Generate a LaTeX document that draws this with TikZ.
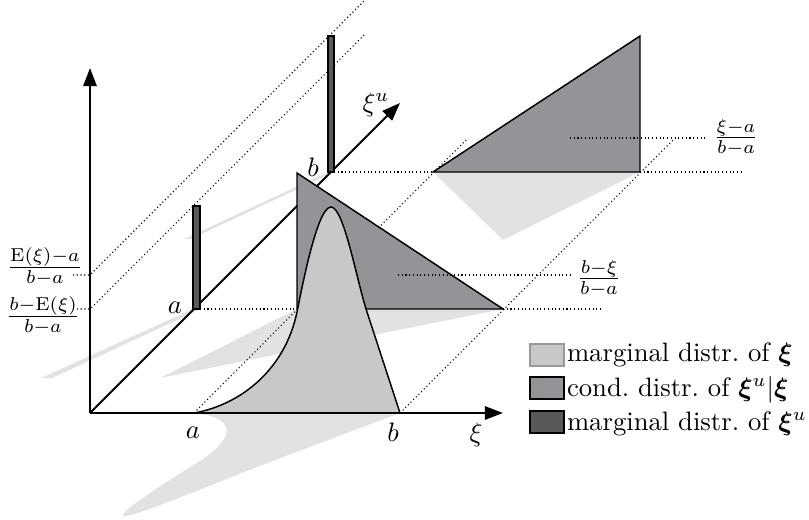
\documentclass[tikz,border=0pt]{standalone}
\usepackage{bm}
\usetikzlibrary{arrows.meta}
\definecolor{shade}{HTML}{E1E2E4}
\definecolor{lightg}{HTML}{C7C8CA}
\definecolor{midg}{HTML}{939498}
\definecolor{darkg}{HTML}{58595B}
\begin{document}
\begin{tikzpicture}[x=0.375pt,y=-0.375pt,
  axisline/.style={line width=0.75pt,-{Triangle[length=6.8pt,width=5pt]}},
  guide/.style={densely dotted,line width=0.4pt},
  outl/.style={draw=black,line width=0.55pt,line join=miter},
  shadowfill/.style={fill=shade,draw=none},
  lbl/.style={inner sep=0pt,outer sep=0pt},
  legbox/.style={minimum width=12.75pt,minimum height=8.25pt,inner sep=0pt,line width=0.5pt}]
\useasboundingbox (0,0) rectangle (809,520);

% named points
\coordinate (O) at (90,413);
\coordinate (Ytip) at (90,68);
\coordinate (Xtip) at (503,413);
\coordinate (Ztip) at (400,103);
\coordinate (xa) at (194,413);
\coordinate (xb) at (400,413);
\coordinate (A1) at (297,309);
\coordinate (A2) at (503,309);
\coordinate (A3) at (297,173);
\coordinate (B1) at (433,172);
\coordinate (B2) at (640,172);
\coordinate (B3) at (640,36);
\coordinate (Pa1) at (193,206);
\coordinate (Pa2) at (200,309);
\coordinate (Pb1) at (328,36);
\coordinate (Pb2) at (334,172);
\coordinate (Pk) at (331,207);

% shadows
\fill[shadowfill] (193,309) -- (201,309) -- (52,378) -- (41,378) -- cycle;
\fill[shadowfill] (328,172) -- (334,172) -- (191,239) -- (184,239) -- cycle;
\fill[shadowfill] (A1) -- (A2) -- (160,378) -- cycle;
\fill[shadowfill] (B1) -- (B2) -- (503,240) -- cycle;
\fill[shadowfill] (xa) .. controls (232,417) and (242,434.5) .. (196,463.5)
   .. controls (168,481) and (112,516) .. (125,516)
   .. controls (138,516) and (226,478.5) .. (266,463.5) -- (xb) -- cycle;

% dotted guides
\coordinate (g1s) at (73,275); \coordinate (g1m) at (90,275); \coordinate (g1e) at (365,0);
\coordinate (g2s) at (77,309); \coordinate (g2m) at (90,309); \coordinate (g2e) at (365,34);
\coordinate (g3e) at (468,138);
\coordinate (g4e) at (673,140);
\coordinate (h2e) at (603,309);
\coordinate (h4e) at (742,172);
\draw[guide] (g1s) -- (g1m) -- (g1e);
\draw[guide] (g2s) -- (g2m) -- (g2e);
\draw[guide] (xa) -- (g3e);
\draw[guide] (xb) -- (g4e);
\draw[guide] (Pa2) -- (A1);
\draw[guide] (A2) -- (h2e);
\draw[guide] (Pb2) -- (B1);
\draw[guide] (B2) -- (h4e);

% axes
\draw[axisline] (O) -- (Ytip);
\draw[axisline] (O) -- (Ztip);

% bars (marginal of xi^u)
\draw[fill=darkg,draw=black,line width=0.4pt] (Pa1) rectangle (Pa2);
\draw[fill=darkg,draw=black,line width=0.4pt] (Pb1) rectangle (Pb2);

% conditional triangles
\draw[outl,fill=midg] (A1) -- (A2) -- (A3) -- cycle;
\draw[outl,fill=midg] (B1) -- (B2) -- (B3) -- cycle;

% marginal density of xi
\draw[outl,fill=lightg] (xa) .. controls (240,405) and (285,370) .. (297,312)
   .. controls (304,277) and (318,207) .. (Pk)
   .. controls (344,207) and (357,282) .. (367,312) -- (xb) -- cycle;

% x axis on top
\draw[axisline] (O) -- (Xtip);

% label guides
\coordinate (l1s) at (398,275); \coordinate (l1e) at (570,275);
\coordinate (l2s) at (570,138); \coordinate (l2e) at (708,138);
\draw[guide] (l1s) -- (l1e);
\draw[guide] (l2s) -- (l2e);

% labels
\node[lbl,anchor=base] (fEa) at (45,274) {$\frac{\mathrm{E}(\xi)-a}{b-a}$};
\node[lbl,anchor=base] (fbE) at (43,323) {$\frac{b-\mathrm{E}(\xi)}{b-a}$};
\node[lbl,anchor=base] (fbx) at (599,285) {$\frac{b-\xi}{b-a}$};
\node[lbl,anchor=base] (fxa) at (736,144) {$\frac{\xi-a}{b-a}$};
\node[lbl] (la) at (193,433) {$a$};
\node[lbl] (lb) at (393,432) {$b$};
\node[lbl] (lxi) at (476,435) {$\xi$};
\node[lbl] (lza) at (175,308) {$a$};
\node[lbl] (lzb) at (313,167) {$b$};
\node[lbl] (lxu) at (376,105) {$\xi^u$};

% legend
\node[legbox,fill=lightg,draw=black!40] (k1) at (547,355) {};
\node[legbox,fill=midg,draw=black] (k2) at (547,388) {};
\node[legbox,fill=darkg,draw=black] (k3) at (547,422) {};
\node[lbl,anchor=base west] (t1) at (567,361) {marginal distr.\ of $\bm{\xi}$};
\node[lbl,anchor=base west] (t2) at (567,396) {cond.\ distr.\ of $\bm{\xi}^u|\bm{\xi}$};
\node[lbl,anchor=base west] (t3) at (567,430) {marginal distr.\ of $\bm{\xi}^u$};
\end{tikzpicture}
\end{document}
